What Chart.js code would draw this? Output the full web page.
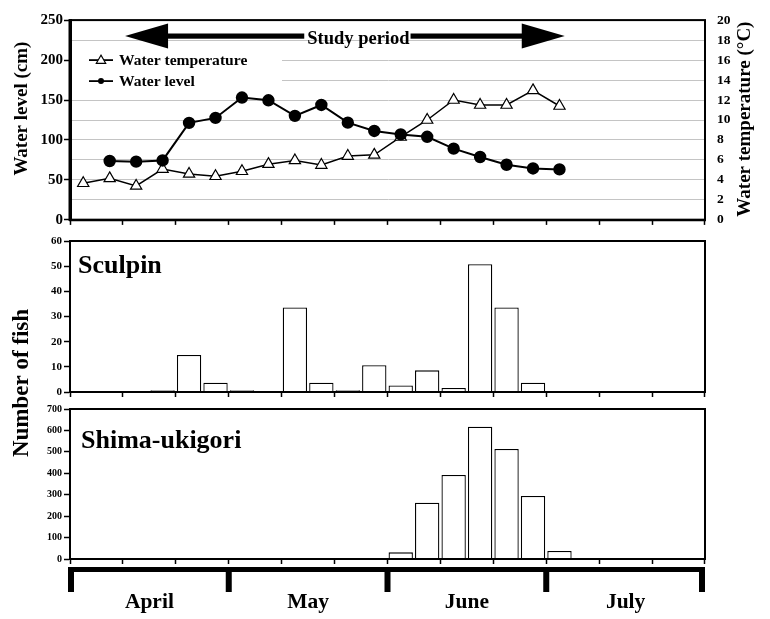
<!DOCTYPE html>
<html><head><meta charset="utf-8">
<script src="https://cdn.jsdelivr.net/npm/chart.js@4.4.1/dist/chart.umd.min.js"></script>
<style>
html,body{margin:0;padding:0;background:#fff;}
#wrap{position:relative;width:770px;height:619px;overflow:hidden;background:#fff;}
canvas{position:absolute;left:0;}
</style></head><body>
<div id="wrap">
<canvas id="c1" width="770" height="240" style="top:0px"></canvas>
<canvas id="c2" width="770" height="240" style="top:232px"></canvas>
<canvas id="c3" width="770" height="219" style="top:400px"></canvas>
</div>
<script>
// ---- data ----
const periods = [
  'Apr 1-5','Apr 6-10','Apr 11-15','Apr 16-20','Apr 21-25','Apr 26-30',
  'May 1-5','May 6-10','May 11-15','May 16-20','May 21-25','May 26-31',
  'Jun 1-5','Jun 6-10','Jun 11-15','Jun 16-20','Jun 21-25','Jun 26-30',
  'Jul 1-5','Jul 6-10','Jul 11-15','Jul 16-20','Jul 21-25','Jul 26-31'
];
const months = ['April', 'May', 'June', 'July'];
const waterLevel = [null, 73.7, 72.9, 74.4, 121.4, 127.6, 153.1, 149.7, 130.2, 143.8, 121.7, 111.3,
                    107, 104, 89.2, 78.7, 69, 64.4, 63.2, null, null, null, null, null];
const waterTemp = [3.67, 4.16, 3.4, 5.09, 4.6, 4.37, 4.87, 5.58, 5.95, 5.49, 6.39, 6.51,
                   8.3, 10.0, 12.0, 11.5, 11.5, 12.97, 11.4, null, null, null, null, null];
const sculpin = [0, 0, 0, 0.7, 14.7, 3.7, 0.7, 0, 33.6, 3.7, 0.7, 10.6,
                 2.6, 8.6, 1.6, 50.8, 33.6, 3.7, 0, 0, 0, 0, 0, 0];
const shimaUkigori = [0, 0, 0, 0, 0, 0, 0, 0, 0, 0, 2, 2,
                      31, 263, 392, 617, 513, 294, 37, 0, 0, 0, 0, 0];
const studyPeriod = [1.58, 18.2];   // in period-index units
const studyLabelAt = 10.4;
const levelTicks = [0, 250, 25, 50];   // min, max, grid step, label step
const tempTicks = [0, 20, 2];
const sculpinTicks = [0, 60, 10];
const shimaTicks = [0, 700, 100];

const SERIF = '"Liberation Serif", "Times New Roman", serif';
Chart.defaults.font.family = SERIF;
Chart.defaults.font.weight = 'bold';
Chart.defaults.color = '#000';

function xScale() {
  return {
    type: 'category', offset: true,
    grid: { offset: true, drawOnChartArea: false, drawTicks: true, tickLength: 5, tickWidth: 1.5,
            tickColor: c => (c.index === undefined || c.index % 2 === 0) ? '#000' : 'rgba(0,0,0,0)' },
    ticks: { display: false, autoSkip: false },
    border: { color: '#000', width: 2 },
    afterFit: s => { s.height = 5; }
  };
}
function framePlugin(leftW, bottomW) {
  return { id: 'frame', afterDraw(chart) {
    const { ctx, chartArea: a } = chart;
    ctx.save();
    ctx.strokeStyle = '#000'; ctx.lineWidth = 2;
    ctx.strokeRect(a.left, a.top, a.right - a.left, a.bottom - a.top);
    ctx.lineWidth = leftW; ctx.beginPath(); ctx.moveTo(a.left, a.top - 1); ctx.lineTo(a.left, a.bottom + 1); ctx.stroke();
    ctx.lineWidth = bottomW; ctx.beginPath(); ctx.moveTo(a.left - 1, a.bottom); ctx.lineTo(a.right + 1, a.bottom); ctx.stroke();
    ctx.restore();
  } };
}
function rotText(ctx, text, x, y, size) {
  ctx.save(); ctx.translate(x, y); ctx.rotate(-Math.PI / 2);
  ctx.font = 'bold ' + size + 'px ' + SERIF; ctx.fillStyle = '#000';
  ctx.textAlign = 'center'; ctx.textBaseline = 'middle';
  ctx.fillText(text, 0, 0); ctx.restore();
}
function tri(ctx, x, y, r) {
  ctx.beginPath();
  for (let k = 0; k < 3; k++) {
    const ang = k * 2 * Math.PI / 3;
    const px = x + Math.sin(ang) * r, py = y - Math.cos(ang) * r;
    k ? ctx.lineTo(px, py) : ctx.moveTo(px, py);
  }
  ctx.closePath();
}

// ---- top chart ----
const topDecor = { id: 'topDecor', afterDraw(chart) {
  const { ctx, chartArea: a } = chart;
  const xs = chart.scales.x;
  ctx.save();
  // legend box
  ctx.fillStyle = '#fff';
  ctx.fillRect(a.left + 2, a.top + 32, 210, 38);
  const items = [chart.data.datasets[1], chart.data.datasets[0]];
  items.forEach((ds, i) => {
    const y = a.top + 40 + i * 21;
    ctx.strokeStyle = '#000'; ctx.lineWidth = 1.8;
    ctx.beginPath(); ctx.moveTo(a.left + 19, y); ctx.lineTo(a.left + 43, y); ctx.stroke();
    if (ds.pointStyle === 'triangle') {
      tri(ctx, a.left + 31, y + 0.5, 5.5); ctx.fillStyle = '#fff'; ctx.fill(); ctx.lineWidth = 1.1; ctx.stroke();
    } else {
      ctx.beginPath(); ctx.arc(a.left + 31, y, 3, 0, Math.PI * 2); ctx.fillStyle = '#000'; ctx.fill();
    }
    ctx.fillStyle = '#000'; ctx.font = 'bold 15.6px ' + SERIF;
    ctx.textAlign = 'left'; ctx.textBaseline = 'middle';
    ctx.fillText(ds.label, a.left + 49, y + 1);
  });
  // study period arrow
  const x1 = xs.getPixelForValue(studyPeriod[0]), x2 = xs.getPixelForValue(studyPeriod[1]);
  const y = a.top + 16, head = 43, hh = 12.5, sh = 2.6;
  const label = 'Study period';
  ctx.font = 'bold 18.5px ' + SERIF;
  const tw = ctx.measureText(label).width;
  const tc = xs.getPixelForValue(studyLabelAt);
  ctx.fillStyle = '#000';
  ctx.beginPath(); ctx.moveTo(x1, y); ctx.lineTo(x1 + head, y - hh); ctx.lineTo(x1 + head, y + hh); ctx.closePath(); ctx.fill();
  ctx.beginPath(); ctx.moveTo(x2, y); ctx.lineTo(x2 - head, y - hh); ctx.lineTo(x2 - head, y + hh); ctx.closePath(); ctx.fill();
  ctx.fillRect(x1 + head - 1, y - sh, (tc - tw / 2 - 3) - (x1 + head - 1), sh * 2);
  ctx.fillRect(tc + tw / 2 + 1, y - sh, (x2 - head + 1) - (tc + tw / 2 + 1), sh * 2);
  ctx.textAlign = 'center'; ctx.textBaseline = 'alphabetic';
  ctx.fillText(label, tc, y + 7.5);
  ctx.restore();
  rotText(ctx, 'Water level (cm)', a.left - 48, a.top + 88.5, 19);
  rotText(ctx, 'Water temperature (°C)', a.right + 40, a.top + 99, 19);
} };

new Chart(document.getElementById('c1'), {
  type: 'line',
  data: { labels: periods, datasets: [
    { label: 'Water level', data: waterLevel, yAxisID: 'y', borderColor: '#000', borderWidth: 2,
      pointStyle: 'circle', pointRadius: 5.2, pointBackgroundColor: '#000', pointBorderColor: '#000', tension: 0 },
    { label: 'Water temperature', data: waterTemp, yAxisID: 'y1', borderColor: '#000', borderWidth: 1.5,
      pointStyle: 'triangle', pointRadius: 6.5, pointBackgroundColor: '#fff', pointBorderColor: '#000',
      pointBorderWidth: 1.2, tension: 0 }
  ] },
  options: {
    responsive: false, animation: false, devicePixelRatio: 1,
    layout: { padding: { top: 13, bottom: 7, left: 0, right: 0 } },
    plugins: { legend: { display: false }, tooltip: { enabled: false } },
    scales: {
      x: xScale(),
      y: { position: 'left', min: levelTicks[0], max: levelTicks[1],
        ticks: { stepSize: levelTicks[2], autoSkip: false, padding: 1, font: { size: 15, weight: 'bold' },
                 callback: v => (v % levelTicks[3] === 0 ? String(v) : '') },
        grid: { lineWidth: 1, tickLength: 6, tickWidth: 1.5,
                color: c => (c.tick && c.tick.value > levelTicks[0] && c.tick.value < levelTicks[1]) ? '#c4c4c4' : 'rgba(0,0,0,0)',
                tickColor: c => (c.tick && c.tick.value % levelTicks[3] === 0) ? '#000' : 'rgba(0,0,0,0)' },
        border: { color: '#000', width: 3 },
        afterFit: s => { s.width = 70; } },
      y1: { position: 'right', min: tempTicks[0], max: tempTicks[1],
        ticks: { stepSize: tempTicks[2], autoSkip: false, padding: 12, font: { size: 13.5, weight: 'bold' } },
        grid: { drawOnChartArea: false, drawTicks: false },
        border: { display: false },
        afterFit: s => { s.width = 65; } }
    }
  },
  plugins: [topDecor, framePlugin(3, 2.5)]
});

// ---- bar charts ----
function barChart(id, values, ticksDef, fontSize, name, nameDx, nameDy, extra) {
  const decor = { id: 'decor', afterDraw(chart) {
    const { ctx, chartArea: a } = chart;
    ctx.save();
    ctx.font = 'bold 26px ' + SERIF; ctx.fillStyle = '#000';
    ctx.textAlign = 'left'; ctx.textBaseline = 'alphabetic';
    ctx.fillText(name, a.left + nameDx, a.top + nameDy);
    ctx.restore();
    if (extra) extra(chart);
  } };
  return new Chart(document.getElementById(id), {
    type: 'bar',
    data: { labels: periods, datasets: [
      { label: name, data: values, backgroundColor: '#fff', borderColor: '#000', borderWidth: 1.3,
        barPercentage: 0.92, categoryPercentage: 1.0 }
    ] },
    options: {
      responsive: false, animation: false, devicePixelRatio: 1,
      layout: { padding: id === 'c2' ? { top: 9, bottom: 75, left: 0, right: 65 } : { top: 9, bottom: 55, left: 0, right: 65 } },
      plugins: { legend: { display: false }, tooltip: { enabled: false } },
      scales: {
        x: xScale(),
        y: { min: ticksDef[0], max: ticksDef[1],
          ticks: { stepSize: ticksDef[2], autoSkip: false, padding: 2, font: { size: fontSize, weight: 'bold' } },
          grid: { drawOnChartArea: false, tickLength: 6, tickWidth: 1.5, tickColor: '#000' },
          border: { color: '#000', width: 2 },
          afterFit: s => { s.width = 70; } }
      }
    },
    plugins: [decor, framePlugin(2, 2)]
  });
}

barChart('c2', sculpin, sculpinTicks, 11, 'Sculpin', 8, 31.7, chart => {
  const a = chart.chartArea;
  rotText(chart.ctx, 'Number of fish', a.left - 48, a.bottom - 9, 23);
});

barChart('c3', shimaUkigori, shimaTicks, 10, 'Shima-ukigori', 11, 39.3, chart => {
  const { ctx, chartArea: a } = chart;
  const xs = chart.scales.x;
  const per = periods.length / months.length;
  const edge = k => {
    let px = xs.getPixelForValue(k * per - 0.5);
    if (k === 0) px += 1; if (k === months.length) px -= 3;
    return px;
  };
  ctx.save();
  ctx.fillStyle = '#000';
  const xl = edge(0), xr = edge(months.length);
  ctx.fillRect(xl - 3, a.bottom + 8, xr - xl + 6, 5);
  for (let k = 0; k <= months.length; k++) {
    const px = edge(k);
    ctx.fillRect(px - 3, a.bottom + 8, 6, 25);
  }
  ctx.font = 'bold 21.5px ' + SERIF; ctx.textAlign = 'center'; ctx.textBaseline = 'alphabetic';
  months.forEach((m, k) => {
    const cx = (xs.getPixelForValue(k * per - 0.5) + xs.getPixelForValue((k + 1) * per - 0.5)) / 2;
    ctx.fillText(m, cx, a.bottom + 49);
  });
  ctx.restore();
});
</script>
</body></html>
